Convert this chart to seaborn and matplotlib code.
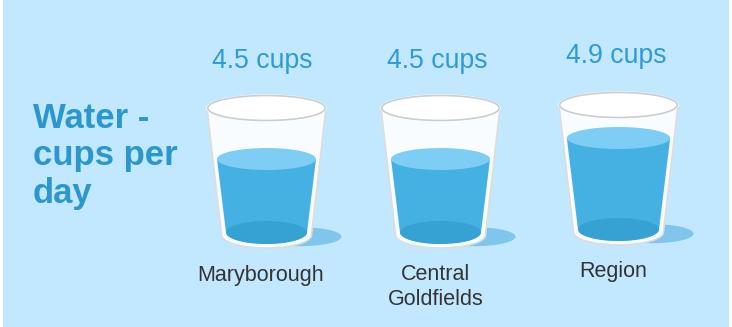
import numpy as np
import pandas as pd
import matplotlib
matplotlib.use("Agg")
import matplotlib.pyplot as plt
from matplotlib.patches import Ellipse, Polygon, PathPatch, Rectangle
from matplotlib.path import Path
import seaborn as sns

places = ["Maryborough", "Central\nGoldfields", "Region"]
cups = [4.5, 4.5, 4.9]
value_labels = ["4.5 cups", "4.5 cups", "4.9 cups"]
title = "Water -\ncups per\nday"

# layout, in reference pixels
W, H = 732, 327
centres = [266.5, 440.5, 618.5]
glass_dy = [0, 0, -3]
value_dx = [-4, -3, -2.5]
value_y = [61, 61, 56]
name_dx = [-5.5, -4.5, -5.5]
name_y = [275, 264, 272]
PX_PER_CUP = 52.5
Y_45 = 159.0
BG, WATER, TOP, DEEP, SHADOW = "#c2e8ff", "#45b1e3", "#7dcdf5", "#36a2d4", "#80c6ec"
INK, TITLE, VALUE = "#333333", "#2b97cd", "#2f9bd6"


def cy(px):
    return 4.5 + (Y_45 - px) / PX_PER_CUP


def h(px):
    return px / PX_PER_CUP


def inner_half(px):
    """Half width of the inside of the glass at height px (glass frame)."""
    return 40.5 + (232.5 - px) * 0.1224


sns.set_theme(style="white")
plt.rcParams["font.family"] = ["Liberation Sans", "DejaVu Sans"]
fig = plt.figure(figsize=(W / 100, H / 100), dpi=100, facecolor="white")
ax = fig.add_axes([0, 0, 1, 1])
ax.set_facecolor("white")
ax.add_patch(Rectangle((3, cy(H)), W - 6, h(H), fc=BG, ec="none", zorder=0))


def wall(cx, dy, half_top, y_top, half_bot, y_bot, ry):
    t = np.linspace(np.pi, 0, 40)
    xs = [cx - half_top] + list(cx + half_bot * np.cos(t)) + [cx + half_top]
    ys = [y_top + dy] + list(y_bot + dy + ry * np.sin(t)) + [y_top + dy]
    return np.column_stack([xs, [cy(v) for v in ys]])


df = pd.DataFrame({"x": centres, "cups": cups})
for cx, dy in zip(centres, glass_dy):
    ax.add_patch(Ellipse((cx + 34, cy(236.7 + dy)), 82, h(19), fc=SHADOW, ec="none", zorder=1))
    ax.add_patch(Polygon(wall(cx, dy, 59.5, 108, 45, 235, 13), closed=True, fc="#f8fcff",
                         ec="#dcdcdc", lw=1.2, zorder=2))

sns.barplot(data=df, x="x", y="cups", native_scale=True, width=0.72, color=WATER,
            saturation=1, ax=ax, zorder=3, errorbar=None)

for bar, cx, dy, v in zip(ax.patches[-3:], centres, glass_dy, cups):
    # the water takes the shape of the glass
    clip = wall(cx, dy, inner_half(100), 100, 40.5, 232.5, 11.5)
    bar.set_clip_path(PathPatch(Path(clip), transform=ax.transData))
    bar.set_edgecolor("none")
    level_px = Y_45 - (v - 4.5) * PX_PER_CUP - dy
    ax.add_patch(Ellipse((cx, v), 2 * inner_half(level_px), h(22), fc=TOP, ec="none", zorder=4))
    ax.add_patch(Ellipse((cx, cy(232.5 + dy)), 81, h(23), fc=DEEP, ec="none", zorder=4))
    ax.patches[-1].set_clip_path(PathPatch(Path(clip), transform=ax.transData))
    ax.add_patch(Ellipse((cx, cy(108 + dy)), 120.5, h(27.5), fc="white", ec="none", zorder=5))
    ax.add_patch(Ellipse((cx, cy(108 + dy)), 117.5, h(25), fc="white", ec="#cdcdcd", lw=1.2, zorder=6))

for cx, lab, name, vdx, vy, ndx, ny in zip(centres, value_labels, places, value_dx, value_y, name_dx, name_y):
    ax.text(cx + vdx, cy(vy), lab, ha="center", va="center", fontsize=19.2, color=VALUE)
    ax.text(cx + ndx, cy(ny), name, ha="center", va="top" if "\n" in name else "center",
            fontsize=15.5, color=INK, linespacing=1.28)
ax.text(33, cy(156), title, ha="left", va="center", fontsize=25, fontweight="bold",
        color=TITLE, linespacing=1.19)

ax.set_xlim(0, W)
ax.set_ylim(cy(H), cy(0))
ax.set_axis_off()
fig.savefig("out.png", dpi=100, facecolor="white")
